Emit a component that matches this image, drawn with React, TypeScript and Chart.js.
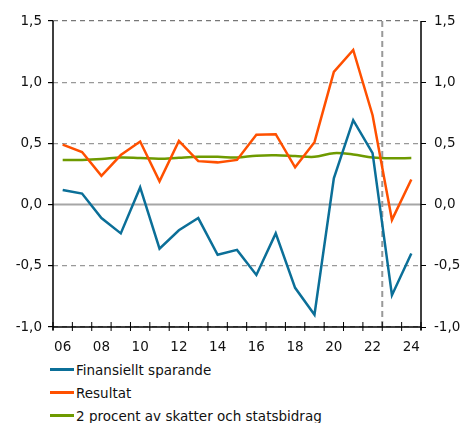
import React, { useEffect, useRef } from "react";
import { Chart, registerables } from "chart.js";

Chart.register(...registerables);

const years = ["06","07","08","09","10","11","12","13","14","15","16","17","18","19","20","21","22","23","24"];
const finansielltSparande = [0.12,0.09,-0.11,-0.235,0.14,-0.36,-0.21,-0.11,-0.41,-0.37,-0.575,-0.235,-0.68,-0.9,0.215,0.69,0.42,-0.74,-0.4];
const resultat = [0.49,0.43,0.235,0.405,0.515,0.19,0.52,0.355,0.345,0.365,0.57,0.575,0.305,0.51,1.085,1.263,0.73,-0.125,0.205];
const tvaProcent = [0.365,0.365,0.372,0.385,0.38,0.375,0.383,0.39,0.39,0.385,0.4,0.403,0.397,0.39,0.42,0.41,0.385,0.378,0.38];
const seriesNames = ["Finansiellt sparande","Resultat","2 procent av skatter och statsbidrag"];
const seriesColors = ["#0b6f98","#ff5000","#6e9a00"];
const forecastStartIndex = 17;

const FONT = "'DejaVu Sans', Verdana, sans-serif";

const fmt = (v: number) => v.toFixed(1).replace(".", ",");

const decorPlugin = {
  id: "decor",
  beforeDatasetsDraw(chart: any) {
    const { ctx, chartArea, scales } = chart;
    const x = scales.x;
    const y = scales.y;
    ctx.save();
    const y0 = y.getPixelForValue(0);
    ctx.strokeStyle = "#a6a6a6";
    ctx.lineWidth = 2;
    ctx.beginPath();
    ctx.moveTo(chartArea.left, y0);
    ctx.lineTo(chartArea.right, y0);
    ctx.stroke();
    const xd = (x.getPixelForValue(forecastStartIndex - 1) + x.getPixelForValue(forecastStartIndex)) / 2;
    ctx.strokeStyle = "#999999";
    ctx.lineWidth = 2;
    ctx.setLineDash([6, 4]);
    ctx.beginPath();
    ctx.moveTo(xd, chartArea.top);
    ctx.lineTo(xd, chartArea.bottom);
    ctx.stroke();
    ctx.restore();
  },
  afterDatasetsDraw(chart: any) {
    const { ctx, chartArea, scales } = chart;
    const x = scales.x;
    ctx.save();
    ctx.strokeStyle = "#000";
    ctx.lineWidth = 1.5;
    ctx.beginPath();
    ctx.moveTo(chartArea.left, chartArea.top);
    ctx.lineTo(chartArea.left, chartArea.bottom + 3);
    ctx.moveTo(chartArea.right, chartArea.top);
    ctx.lineTo(chartArea.right, chartArea.bottom + 3);
    ctx.moveTo(chartArea.left, chartArea.bottom);
    ctx.lineTo(chartArea.right, chartArea.bottom);
    ctx.stroke();
    ctx.lineWidth = 1;
    const n = years.length;
    for (let i = 0; i <= n; i++) {
      const px = i === 0 ? chartArea.left : i === n ? chartArea.right
        : (x.getPixelForValue(i - 1) + x.getPixelForValue(i)) / 2;
      ctx.beginPath();
      ctx.moveTo(px, chartArea.bottom - 5);
      ctx.lineTo(px, chartArea.bottom + 4);
      ctx.stroke();
    }
    ctx.restore();
  },
};

export default function App() {
  const ref = useRef<HTMLCanvasElement | null>(null);
  useEffect(() => {
    if (!ref.current) return;
    const data = [finansielltSparande, resultat, tvaProcent];
    const chart = new Chart(ref.current, {
      type: "line",
      data: {
        labels: years,
        datasets: data.map((d, i) => ({
          label: seriesNames[i],
          data: d,
          borderColor: seriesColors[i],
          backgroundColor: seriesColors[i],
          borderWidth: 2.5,
          pointRadius: 0,
          tension: i === 2 ? 0.35 : 0,
          yAxisID: "y",
        })),
      },
      options: {
        animation: false,
        responsive: false,
        maintainAspectRatio: false,
        layout: { padding: { top: 21, left: 0, right: 0, bottom: 0 } },
        plugins: { legend: { display: false }, tooltip: { enabled: false } },
        scales: {
          x: {
            offset: true,
            grid: { display: false, drawTicks: false },
            border: { display: false },
            ticks: {
              autoSkip: false,
              maxRotation: 0,
              padding: 12,
              color: "#111",
              font: { family: FONT, size: 13.5 },
              callback: (v: any, i: number) => (i % 2 === 0 ? years[i] : ""),
            },
            afterFit: (s: any) => { s.height = 28; },
          },
          y: {
            position: "left",
            min: -1,
            max: 1.5,
            ticks: {
              stepSize: 0.5,
              padding: 6,
              color: "#111",
              font: { family: FONT, size: 13.5 },
              callback: (v: any) => fmt(Number(v)),
            },
            grid: {
              color: (c: any) => (c.tick && c.tick.value === 0 ? "rgba(0,0,0,0)" : c.tick && c.tick.value === 1.5 ? "#777" : "#999"),
              lineWidth: 1.2,
              tickColor: "#000",
              tickLength: 5,
              drawTicks: true,
            },
            border: { display: false, dash: [5, 4] },
            afterFit: (s: any) => { s.width = 53; },
          },
          y2: {
            position: "right",
            min: -1,
            max: 1.5,
            ticks: {
              stepSize: 0.5,
              padding: 8,
              color: "#111",
              font: { family: FONT, size: 13.5 },
              callback: (v: any) => fmt(Number(v)),
            },
            grid: { drawOnChartArea: false, tickColor: "#000", tickLength: 5 },
            border: { display: false },
            afterFit: (s: any) => { s.width = 41; },
          },
        },
      },
      plugins: [decorPlugin],
    });
    return () => chart.destroy();
  }, []);

  return (
    <div style={{ position: "absolute", left: 0, top: 0, width: 462, height: 423, background: "#fff", overflow: "hidden" }}>
      <canvas ref={ref} width={462} height={355} style={{ display: "block", width: 462, height: 355 }} />
      <div style={{ position: "absolute", left: 50, top: 358, fontFamily: FONT, fontSize: 13.5, color: "#111" }}>
        {seriesNames.map((n, i) => (
          <div key={n} style={{ display: "flex", alignItems: "center", height: 23 }}>
            <span style={{ display: "inline-block", width: 24, height: 3, background: seriesColors[i], marginRight: 2 }} />
            <span>{n}</span>
          </div>
        ))}
      </div>
    </div>
  );
}
